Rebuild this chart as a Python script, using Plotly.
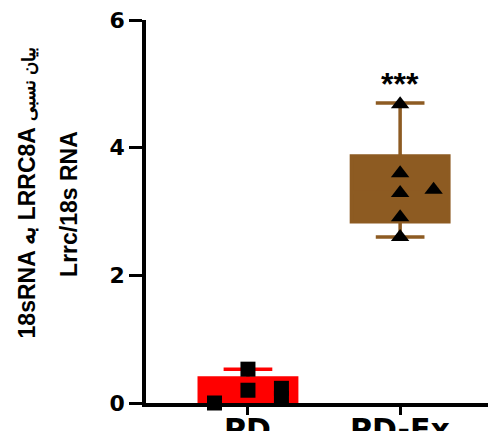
import plotly.graph_objects as go

# ---- data ----
categories = ["PD", "PD-Ex"]
pd_values = [0.53, 0.20, 0.00, 0.23, 0.07]
pdex_values = [4.68, 3.60, 3.29, 2.91, 2.60, 3.34]

q1 = [0.02, 2.84]
median = [0.20, 3.30]
q3 = [0.39, 3.87]
lowerfence = [0.00, 2.60]
upperfence = [0.53, 4.70]

y_ticks = [0, 2, 4, 6]
significance = "***"
title_line1_latin = "18sRNA به LRRC8A "
title_line1_persian = "بیان نسبی"
title_line2 = "Lrrc/18s RNA"

# ---- styling / positions ----
colors = ["#FF0000", "#8D5B22"]
pd_jitter = [0, 0, -0.22, 0.22, 0.22]
pdex_jitter = [0, 0, 0, 0, 0, 0.22]

fig = go.Figure()

for i, cat in enumerate(categories):
    fig.add_trace(go.Box(
        x=[i], q1=[q1[i]], median=[median[i]], q3=[q3[i]],
        lowerfence=[lowerfence[i]], upperfence=[upperfence[i]],
        width=0.64, whiskerwidth=0.5,
        fillcolor=colors[i], line=dict(color=colors[i], width=3.5),
        boxpoints=False, showlegend=False, hoverinfo="skip",
    ))

fig.add_trace(go.Scatter(
    x=[0 + j for j in pd_jitter], y=pd_values, mode="markers",
    marker=dict(symbol="square", size=15, color="black"),
    cliponaxis=False, showlegend=False,
))
fig.add_trace(go.Scatter(
    x=[1 + j for j in pdex_jitter], y=pdex_values, mode="markers",
    marker=dict(symbol="triangle-up", size=16, color="black"),
    cliponaxis=False, showlegend=False,
))

fig.add_annotation(x=1, y=5.0, xref="x", yref="y", text=significance,
                   showarrow=False, yanchor="middle",
                   font=dict(family="Liberation Sans, Arial", size=32, color="black", weight="bold"))

# category labels (drawn as annotations so they sit close under the axis)
for i, cat in enumerate(categories):
    fig.add_annotation(x=i, xref="x", y=0, yref="paper", yanchor="top", yshift=-7,
                       text=cat, showarrow=False,
                       font=dict(family="DejaVu Sans", size=30, color="black", weight="bold"))

title_font = dict(family="Liberation Sans, Arial", size=23,
                  color="black", weight="bold")
fig.add_annotation(xref="paper", yref="paper", x=0, y=0.162, xshift=-119,
                   xanchor="center", yanchor="bottom", textangle=-90,
                   text=title_line1_latin + '<span style="font-size:18px">' + title_line1_persian + '</span>',
                   showarrow=False, font=title_font)
fig.add_annotation(xref="paper", yref="paper", x=0, y=0.324, xshift=-77,
                   xanchor="center", yanchor="bottom", textangle=-90,
                   text=title_line2, showarrow=False, font=title_font)

fig.update_layout(
    width=496, height=431,
    margin=dict(l=138, r=8, t=12, b=36, autoexpand=False),
    plot_bgcolor="white", paper_bgcolor="white",
    xaxis=dict(range=[-0.67, 1.63], tickmode="array", tickvals=[0, 1], ticktext=categories,
               showticklabels=False,
               showline=True, linecolor="black", linewidth=3.5,
               ticks="outside", ticklen=8, tickwidth=3, tickcolor="black",
               showgrid=False, zeroline=False, automargin=False),
    yaxis=dict(range=[0, 6], tickmode="array", tickvals=y_ticks,
               showline=True, linecolor="black", linewidth=3.5,
               ticks="outside", ticklen=13, tickwidth=3, tickcolor="black",
               showgrid=False, zeroline=False, automargin=False,
               ticklabeloverflow="allow",
               tickfont=dict(family="DejaVu Sans", size=22, color="black", weight="bold")),
)

fig.write_html("out.html")
